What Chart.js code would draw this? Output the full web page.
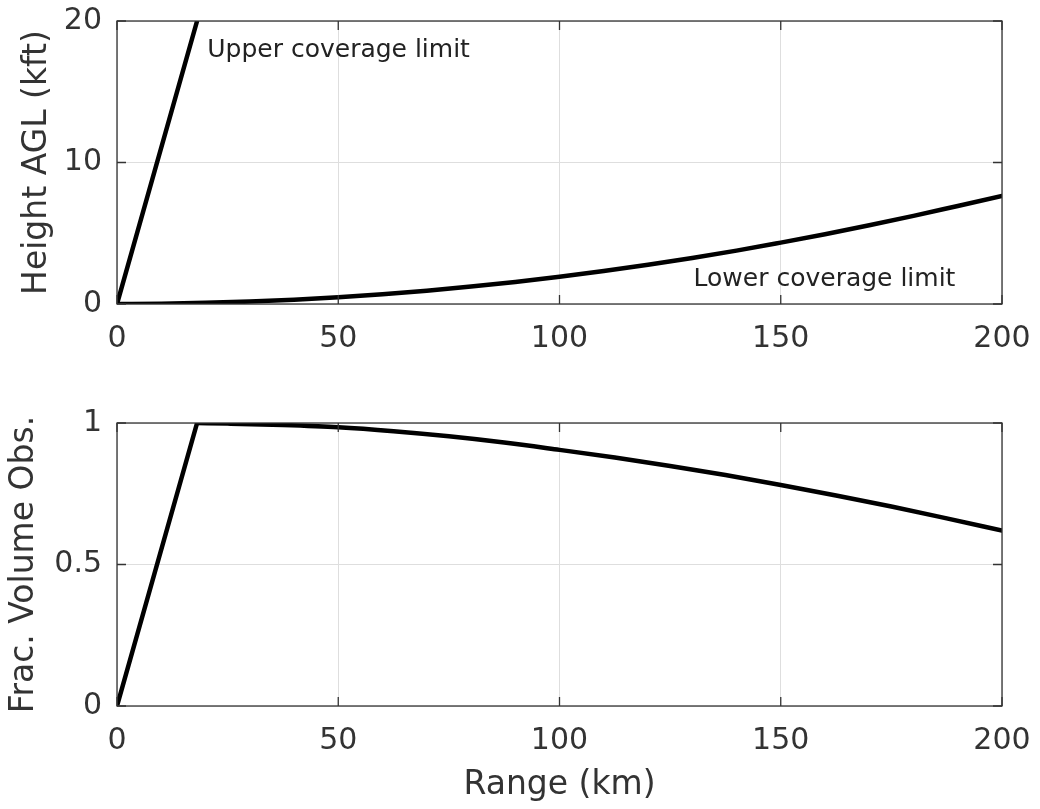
<!DOCTYPE html>
<html>
<head>
<meta charset="utf-8">
<script src="https://cdn.jsdelivr.net/npm/chart.js@4/dist/chart.umd.min.js"></script>
<style>
  body { margin: 0; background: #fff; }
  .box { position: absolute; left: 0; width: 1040px; }
  #top { top: 0; height: 380px; }
  #bottom { top: 400px; height: 409px; }
</style>
</head>
<body>
<div class="box" id="top"><canvas id="heightChart"></canvas></div>
<div class="box" id="bottom"><canvas id="fracChart"></canvas></div>
<script>
// upper coverage limit (straight line)
const upperRange = [0, 18.1];
const upperHeight = [0, 20];

// lower coverage limit (curve)
const lowerRange = [0, 10, 20, 30, 40, 50, 60, 70, 80, 90, 100, 110, 120, 130, 140, 150, 160, 170, 180, 190, 200];
const lowerHeight = [0, 0.02, 0.08, 0.17, 0.3, 0.47, 0.69, 0.94, 1.23, 1.56, 1.93, 2.33, 2.77, 3.25, 3.77, 4.34, 4.93, 5.56, 6.23, 6.93, 7.63];

// fraction of volume observed: rising part, then falling curve
const riseRange = [0, 18.1];
const riseFrac = [0, 1.0];
const fallRange = [18.1, 25, 37.5, 50, 62.5, 75, 87.5, 100, 112.5, 125, 137.5, 150, 162.5, 175, 187.5, 200];
const fallFrac = [1.0, 0.998, 0.993, 0.985, 0.971, 0.953, 0.931, 0.905, 0.878, 0.848, 0.816, 0.781, 0.744, 0.705, 0.663, 0.62];

const xTicks = [0, 50, 100, 150, 200];
const heightTicks = [0, 10, 20];
const fracTicks = [0, 0.5, 1];

const notes = [
  { text: 'Upper coverage limit', x: 20.4, y: 17.95 },
  { text: 'Lower coverage limit', x: 130.3, y: 1.7 }
];

const FONT = "'DejaVu Sans', sans-serif";
const TXT = '#333333';

const pts = (xs, ys) => xs.map((x, i) => ({ x: x, y: ys[i] }));

// box round the plot with inward ticks on all four sides
const boxPlugin = {
  id: 'box',
  afterDraw(chart) {
    const { ctx, chartArea: a, scales } = chart;
    ctx.save();
    ctx.strokeStyle = '#333';
    ctx.lineWidth = 1.3;
    ctx.strokeRect(a.left, a.top, a.right - a.left, a.bottom - a.top);
    ctx.beginPath();
    scales.x.ticks.forEach(t => {
      const px = scales.x.getPixelForValue(t.value);
      ctx.moveTo(px, a.bottom); ctx.lineTo(px, a.bottom - 9);
      ctx.moveTo(px, a.top); ctx.lineTo(px, a.top + 9);
    });
    scales.y.ticks.forEach(t => {
      const py = scales.y.getPixelForValue(t.value);
      ctx.moveTo(a.left, py); ctx.lineTo(a.left + 9, py);
      ctx.moveTo(a.right, py); ctx.lineTo(a.right - 9, py);
    });
    ctx.stroke();
    ctx.restore();
  }
};

const notePlugin = {
  id: 'notes',
  afterDatasetsDraw(chart, args, opts) {
    if (!opts.items) return;
    const { ctx, scales } = chart;
    ctx.save();
    ctx.fillStyle = '#222';
    ctx.font = '25px ' + FONT;
    ctx.textBaseline = 'middle';
    opts.items.forEach(n => {
      ctx.fillText(n.text, scales.x.getPixelForValue(n.x), scales.y.getPixelForValue(n.y));
    });
    ctx.restore();
  }
};

const noPad = s => { s.paddingTop = 0; s.paddingBottom = 0; s.paddingLeft = 0; s.paddingRight = 0; };

function makeChart(id, datasets, yMin, yMax, yTickList, yTitle, xTitle, pad, xH, titlePad, items) {
  return new Chart(document.getElementById(id), {
    type: 'line',
    data: { datasets: datasets },
    options: {
      responsive: true,
      maintainAspectRatio: false,
      animation: false,
      layout: { padding: pad },
      plugins: { legend: { display: false }, tooltip: { enabled: false }, notes: { items: items } },
      elements: { point: { radius: 0 }, line: { borderWidth: 4.5, borderColor: '#000', borderCapStyle: 'round', borderJoinStyle: 'round' } },
      scales: {
        x: {
          type: 'linear', min: 0, max: 200,
          afterBuildTicks: s => { s.ticks = xTicks.map(v => ({ value: v })); },
          afterFit: s => { s.height = xH; noPad(s); },
          grid: { color: '#dedede', lineWidth: 1, drawTicks: false },
          border: { display: false },
          ticks: { color: TXT, font: { family: FONT, size: 30 }, padding: 17, maxRotation: 0, callback: v => String(v) },
          title: { display: !!xTitle, text: xTitle, color: TXT, font: { family: FONT, size: 33 }, padding: { top: 0 } }
        },
        y: {
          type: 'linear', min: yMin, max: yMax,
          afterBuildTicks: s => { s.ticks = yTickList.map(v => ({ value: v })); },
          afterFit: s => { s.width = 117; noPad(s); },
          grid: { color: '#dedede', lineWidth: 1, drawTicks: false },
          border: { display: false },
          ticks: { color: TXT, font: { family: FONT, size: 30 }, padding: 15, callback: v => String(v) },
          title: { display: true, text: yTitle, color: TXT, font: { family: FONT, size: 33 }, padding: { top: titlePad, bottom: 0 } }
        }
      }
    },
    plugins: [boxPlugin, notePlugin]
  });
}

makeChart('heightChart', [
  { data: pts(upperRange, upperHeight) },
  { data: pts(lowerRange, lowerHeight), cubicInterpolationMode: 'monotone' }
], 0, 20, heightTicks, 'Height AGL (kft)', '', { top: 21, right: 38, left: 0, bottom: 0 }, 76, 18, notes);

makeChart('fracChart', [
  { data: pts(riseRange, riseFrac) },
  { data: pts(fallRange, fallFrac), cubicInterpolationMode: 'monotone' }
], 0, 1, fracTicks, 'Frac. Volume Obs.', 'Range (km)', { top: 23, right: 38, left: 0, bottom: 0 }, 103, 5, null);
</script>
</body>
</html>
